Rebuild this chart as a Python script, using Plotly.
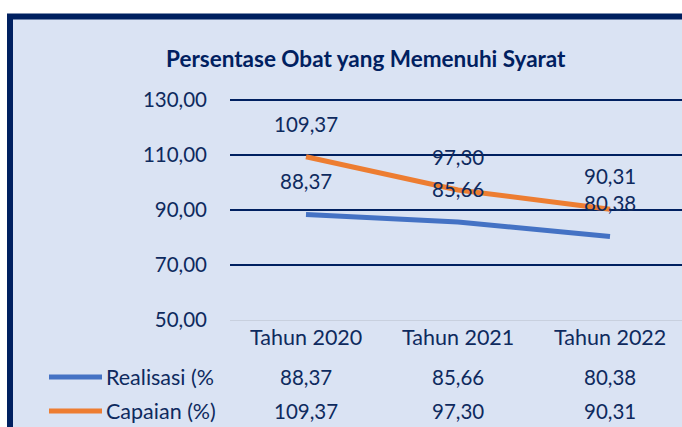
import plotly.graph_objects as go

title_text = "Persentase Obat yang Memenuhi Syarat"
categories = ["Tahun 2020", "Tahun 2021", "Tahun 2022"]
series_names = ["Realisasi (%", "Capaian (%)"]
realisasi = [88.37, 85.66, 80.38]
capaian = [109.37, 97.30, 90.31]
y_ticks = [50, 70, 90, 110, 130]

NAVY = "#002060"
TXT = "#0E2A5E"
BG = "#DAE3F3"
BLUE = "#4472C4"
ORANGE = "#ED7D31"
FONT = "Lato"
NUM_SIZE = 20.5

W, H = 682, 427
ML, MR, MT, MB = 230, 0, 98, 107
PW, PH = W - ML - MR, H - MT - MB
Y0 = 50
Y1 = 50 + 80 * PH / 220.0


def px2x(px):
    return (px - ML) / PW


def py2y(py):
    return (H - MB - py) / PH


def fmt(v):
    return f"{v:.2f}".replace(".", ",")


xs = list(range(len(categories)))
series = [(series_names[0], realisasi, BLUE), (series_names[1], capaian, ORANGE)]

fig = go.Figure()
for name, vals, col in series:
    fig.add_trace(go.Scatter(x=xs, y=vals, mode="lines", name=name,
                             line=dict(color=col, width=5), showlegend=False,
                             hoverinfo="skip"))

ann = []
# data labels above points
for name, vals, col in series:
    for xi, v in zip(xs, vals):
        ann.append(dict(x=xi, y=v, xref="x", yref="y", text=fmt(v), showarrow=False,
                        yshift=33, font=dict(family=FONT, size=NUM_SIZE, color=TXT)))

# category labels under the axis
for xi, c in zip(xs, categories):
    ann.append(dict(x=xi, y=py2y(337), xref="x", yref="paper", text=c, showarrow=False,
                    yanchor="middle", font=dict(family=FONT, size=21.5, color=TXT)))

# data table rows
row_py = [377, 411]
for (name, vals, col), rpy in zip(series, row_py):
    for xi, v in zip(xs, vals):
        ann.append(dict(x=xi, y=py2y(rpy), xref="x", yref="paper", text=fmt(v),
                        showarrow=False, yanchor="middle",
                        font=dict(family=FONT, size=NUM_SIZE, color=TXT)))
    ann.append(dict(x=px2x(104), y=py2y(rpy), xref="paper", yref="paper", text=name,
                    showarrow=False, xanchor="left", yanchor="middle",
                    font=dict(family=FONT, size=21.5, color=TXT)))

# title
ann.append(dict(x=px2x(366), y=py2y(58), xref="paper", yref="paper", text="<b>" + title_text + "</b>",
                showarrow=False, xanchor="center", yanchor="middle",
                font=dict(family=FONT, size=22.5, color=NAVY)))

shapes = [
    # chart frame
    dict(type="rect", xref="paper", yref="paper", x0=px2x(10), x1=px2x(720),
         y0=py2y(460), y1=py2y(16.5), fillcolor=BG, line=dict(color=NAVY, width=6),
         layer="below"),
]
for (name, vals, col), rpy in zip(series, row_py):
    shapes.append(dict(type="line", xref="paper", yref="paper", x0=px2x(49), x1=px2x(102),
                       y0=py2y(rpy), y1=py2y(rpy), line=dict(color=col, width=5)))

fig.update_layout(
    width=W, height=H,
    margin=dict(l=ML, r=MR, t=MT, b=MB),
    paper_bgcolor="white", plot_bgcolor="rgba(0,0,0,0)",
    separators=",.",
    annotations=ann, shapes=shapes,
    showlegend=False,
    xaxis=dict(range=[-0.5, -0.5 + PW / 152.0], tickvals=xs, showticklabels=False,
               showgrid=False, zeroline=False, showline=True, linecolor="#C8D0DE",
               linewidth=1, ticks="", fixedrange=True),
    yaxis=dict(range=[Y0, Y1], tickvals=y_ticks, tickformat=".2f",
               showgrid=True, gridcolor=NAVY, gridwidth=2, zeroline=False,
               showline=False, ticks="", ticklabelstandoff=22,
               tickfont=dict(family=FONT, size=NUM_SIZE, color=TXT), fixedrange=True),
)

fig.write_html("out.html", config={"displayModeBar": False},
               post_script="document.body.style.margin='0';document.body.style.overflow='hidden';")
